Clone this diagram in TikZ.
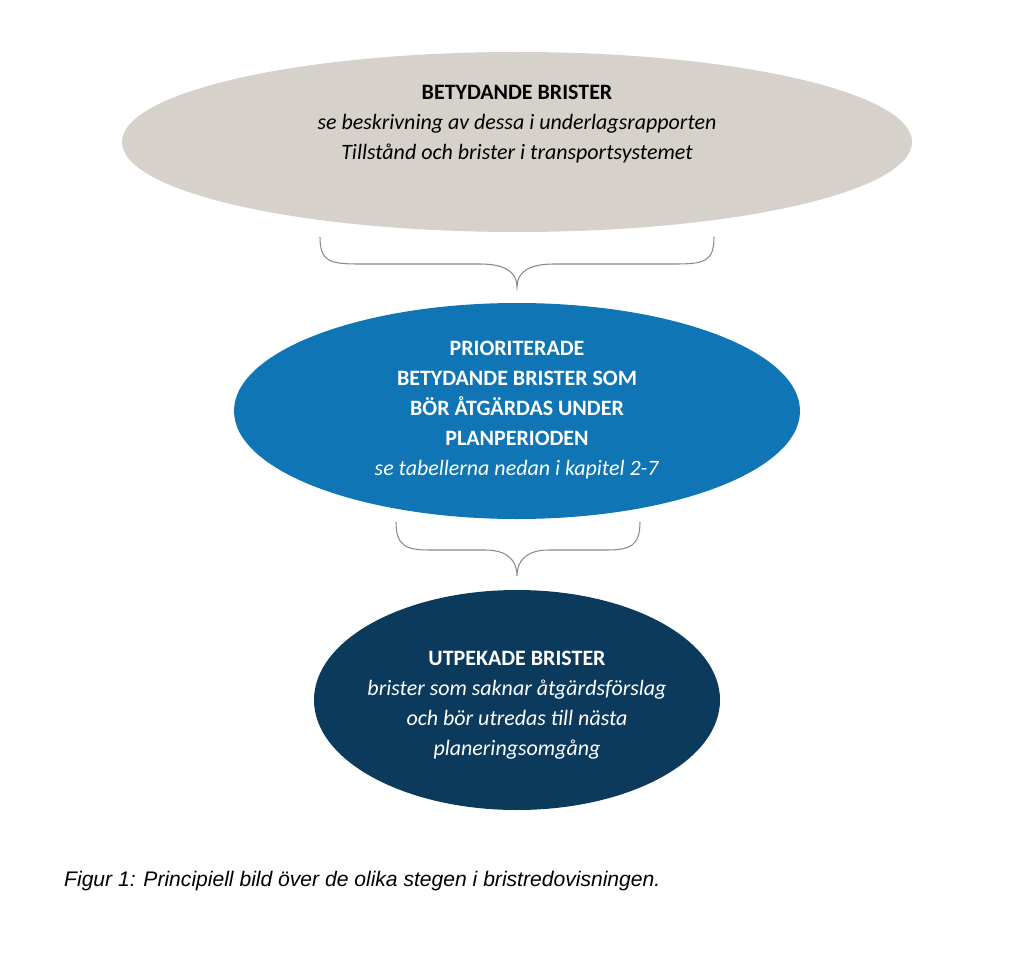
\documentclass[tikz,border=0pt]{standalone}
\usepackage{fontspec}
\setmainfont{Carlito}
\newfontfamily\capfont{Liberation Sans}
\definecolor{gr}{HTML}{D6D1CA}
\definecolor{bl}{HTML}{0F75B4}
\definecolor{dk}{HTML}{0C3A5D}
\definecolor{br}{HTML}{8A8A8A}
\begin{document}
\begin{tikzpicture}[x=0.02cm,y=-0.02cm,
  ell/.style={ellipse,inner sep=0pt},
  txt/.style={align=center,font=\fontsize{12.5}{17}\selectfont},
  brc/.style={draw=br,line width=0.6pt}]
\useasboundingbox (0,0) rectangle (1024,956);
\fill[gr] (517,142) ellipse [x radius=395, y radius=90];
\fill[bl] (517,411) ellipse [x radius=283, y radius=108];
\fill[dk] (517,700) ellipse [x radius=203, y radius=110];
\node[txt,text=black] (t1) at (517,124) {\textbf{BETYDANDE BRISTER}\\\textit{se beskrivning av dessa i underlagsrapporten}\\\textit{Tillstånd och brister i transportsystemet}};
\node[txt,text=white] (t2) at (517,410) {\textbf{PRIORITERADE}\\\textbf{BETYDANDE BRISTER SOM}\\\textbf{BÖR ÅTGÄRDAS UNDER}\\\textbf{PLANPERIODEN}\\\textit{se tabellerna nedan i kapitel 2-7}};
\node[txt,text=white] (t3) at (517,705) {\textbf{UTPEKADE BRISTER}\\\textit{brister som saknar åtgärdsförslag}\\\textit{och bör utredas till nästa}\\\textit{planeringsomgång}};
\coordinate (b1a) at (320,237); \coordinate (b1t) at (517,287); \coordinate (b1b) at (714,237);
\draw[brc] (b1a) .. controls (320,262) and (330,264) .. (360,264) -- (480,264) .. controls (505,264) and (517,272) .. (b1t)
  .. controls (517,272) and (529,264) .. (554,264) -- (674,264) .. controls (704,264) and (714,262) .. (b1b);
\coordinate (b2a) at (396,522); \coordinate (b2t) at (517,576); \coordinate (b2b) at (640,522);
\draw[brc] (b2a) .. controls (396,546) and (406,550) .. (430,550) -- (485,550) .. controls (507,550) and (517,560) .. (b2t)
  .. controls (517,560) and (527,550) .. (549,550) -- (606,550) .. controls (630,550) and (640,546) .. (b2b);
\node[anchor=west,font=\capfont\itshape\fontsize{12}{14}\selectfont] (cap) at (58,881) {Figur 1: Principiell bild över de olika stegen i bristredovisningen.};
\end{tikzpicture}
\end{document}
